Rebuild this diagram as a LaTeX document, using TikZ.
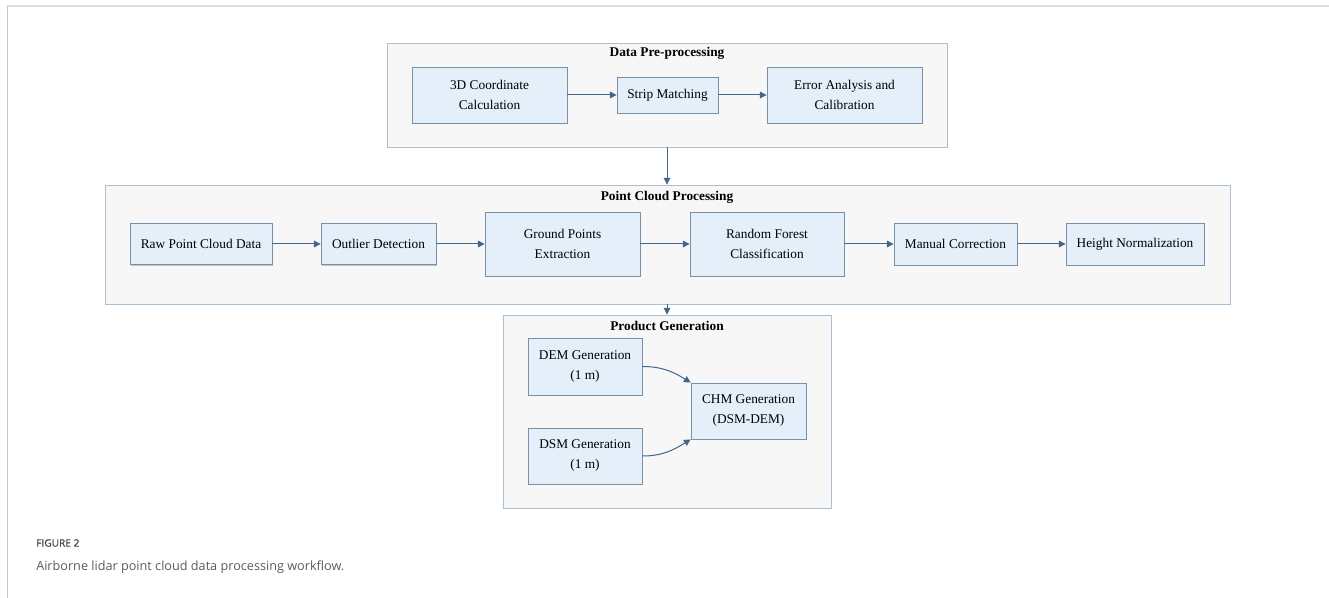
\documentclass[tikz,border=0pt]{standalone}
\usepackage{fontspec}
\setmainfont{Liberation Serif}
\newfontfamily\capfont{Open Sans}
\newfontfamily\capheadfont[FakeBold=1.2]{Open Sans}
\usetikzlibrary{arrows.meta,shadows}
\definecolor{contfill}{HTML}{F7F7F7}
\definecolor{contdraw}{HTML}{A9BFD3}
\definecolor{boxfill}{HTML}{E4EFFA}
\definecolor{boxdraw}{HTML}{7890A8}
\definecolor{arrowc}{HTML}{42678A}
\definecolor{framec}{HTML}{DCDCDC}
\definecolor{capc}{HTML}{5A5A5A}
\tikzset{
  wh/.style 2 args={minimum width=#1*0.75pt, minimum height=#2*0.75pt},
  cont/.style={draw=contdraw, fill=contfill, line width=0.7pt, inner sep=0pt,
    drop shadow={shadow xshift=0.8pt, shadow yshift=-0.8pt, opacity=0.25, fill=black!60}},
  box/.style={draw=boxdraw, fill=boxfill, line width=0.6pt, inner sep=0pt, align=center,
    font=\fontsize{10}{15}\selectfont,
    drop shadow={shadow xshift=1pt, shadow yshift=-1pt, opacity=0.35, fill=black!60}},
  ttl/.style={font=\fontsize{10}{12}\selectfont\bfseries, inner sep=0pt},
  arr/.style={draw=arrowc, line width=0.75pt, -{Triangle[width=5pt,length=5pt]}},
}
\begin{document}
\begin{tikzpicture}[x=0.75pt, y=-0.75pt]
\useasboundingbox (0,0) rectangle (1329,598);
% page frame
\coordinate (ftl) at (7.3,6.5);
\coordinate (ftr) at (1329,6.5);
\coordinate (fbl) at (7.3,598);
\draw[framec, line width=1.5pt] (ftl) -- (ftr);
\draw[black!22, line width=0.8pt] (ftl) -- (fbl);

% containers
\node[cont, wh={560}{104}] (pre) at (667,95) {};
\node[ttl] (pretitle) at (667,53) {Data Pre-processing};
\node[cont, wh={1125}{119}] (pcp) at (667.5,244.5) {};
\node[ttl] (pcptitle) at (667,197) {Point Cloud Processing};
\node[cont, wh={328}{193}] (prod) at (667,411.5) {};
\node[ttl] (prodtitle) at (667,326) {Product Generation};

% data pre-processing
\node[box, wh={155}{56}] (coord) at (489.5,95) {3D Coordinate\\Calculation};
\node[box, wh={101}{36}] (strip) at (667.5,95) {Strip Matching};
\node[box, wh={155}{56}] (err) at (844.5,95) {Error Analysis and\\Calibration};

% point cloud processing
\node[box, wh={142}{41}] (raw) at (201,244) {Raw Point Cloud Data};
\node[box, wh={115}{41}] (out) at (378.5,244) {Outlier Detection};
\node[box, wh={155}{64}] (gnd) at (562.5,244) {Ground Points\\Extraction};
\node[box, wh={154}{64}] (rf) at (767,244) {Random Forest\\Classification};
\node[box, wh={123}{42}] (man) at (955.5,244) {Manual Correction};
\node[box, wh={138}{42}] (hgt) at (1135,244) {Height Normalization};

% product generation
\node[box, wh={114}{57}] (dem) at (585,366.5) {DEM Generation\\(1 m)};
\node[box, wh={114}{56}] (dsm) at (585,456) {DSM Generation\\(1 m)};
\node[box, wh={115}{56}] (chm) at (748.5,411) {CHM Generation\\(DSM-DEM)};

% connectors
\draw[arr] (coord.east) -- (coord.east -| strip.west);
\draw[arr] (strip.east) -- (strip.east -| err.west);
\draw[arr] (raw.east) -- (raw.east -| out.west);
\draw[arr] (out.east) -- (out.east -| gnd.west);
\draw[arr] (gnd.east) -- (gnd.east -| rf.west);
\draw[arr] (rf.east) -- (rf.east -| man.west);
\draw[arr] (man.east) -- (man.east -| hgt.west);
\draw[arr] (pre.south) -- (pre.south |- pcp.north);
\draw[arr] (pre.south |- pcp.south) -- (pre.south |- prod.north);
\draw[arr] (dem.east) to[out=0, in=148] (chm.north west);
\draw[arr] (dsm.east) to[out=0, in=212] (chm.south west);

% caption
\node[anchor=west, inner sep=0pt, text=capc!75!black, font=\capheadfont\fontsize{7.6}{9}\selectfont] (fig) at (36,543) {FIGURE 2};
\node[anchor=west, inner sep=0pt, text=capc, font=\capfont\fontsize{9.5}{12}\selectfont] (cap) at (36,567) {Airborne lidar point cloud data processing workflow.};
\end{tikzpicture}
\end{document}
